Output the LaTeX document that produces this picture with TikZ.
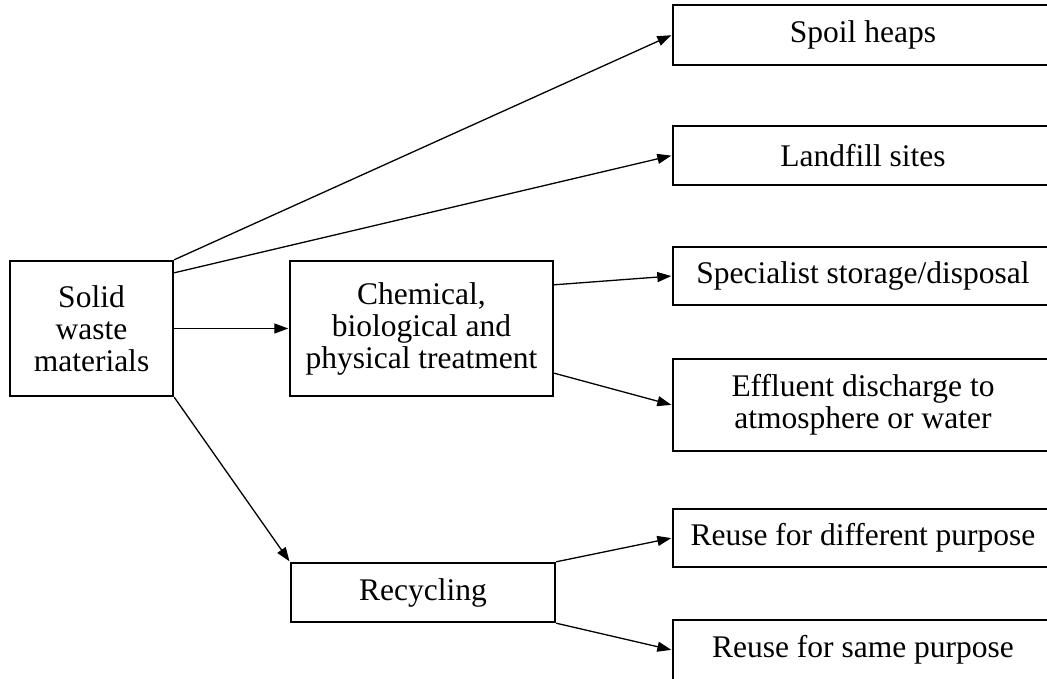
\documentclass[tikz,border=0pt]{standalone}
\usepackage{fontspec}
\setmainfont{Liberation Serif}
\usetikzlibrary{arrows.meta,calc}
\tikzset{
  box/.style={draw, line width=2.4pt, rectangle, align=center, inner sep=0pt,
    font=\fontsize{31.5}{32}\selectfont},
  conn/.style={line width=1.3pt, -{Triangle[length=14pt,width=10pt]}, shorten >=0.5pt}
}
\begin{document}
\begin{tikzpicture}[x=1pt,y=-1pt]
\useasboundingbox (0,0) rectangle (1047,679);
\node[box, minimum width=163pt, minimum height=135pt] (solid) at (91.5,328.5) {Solid\\waste\\materials};
\node[box, minimum width=263pt, minimum height=135pt] (chem) at (421.5,328.5) {Chemical,\\biological and\\physical treatment};
\node[box, minimum width=264pt, minimum height=59pt] (recyc) at (423,592.5) {Recycling};
\node[box, minimum width=380pt, minimum height=60pt] (spoil) at (863,35) {Spoil heaps};
\node[box, minimum width=380pt, minimum height=59pt] (land) at (863,155.5) {Landfill sites};
\node[box, minimum width=380pt, minimum height=58pt] (spec) at (863,276) {Specialist storage/disposal};
\node[box, minimum width=380pt, minimum height=92pt] (eff) at (863,405) {Effluent discharge to\\atmosphere or water};
\node[box, minimum width=380pt, minimum height=58pt] (rdiff) at (863,538) {Reuse for different purpose};
\node[box, minimum width=380pt, minimum height=60pt] (rsame) at (863,650) {Reuse for same purpose};

\draw[conn] (solid.north east) -- (spoil.west);
\draw[conn] ($(solid.north east)+(0,13)$) -- (land.west);
\draw[conn] (solid.east) -- (chem.west);
\draw[conn] (solid.south east) -- (recyc.north west);
\draw[conn] ($(chem.north east)+(0,25)$) -- (spec.west);
\draw[conn] ($(chem.south east)+(0,-24)$) -- (eff.west);
\draw[conn] (recyc.north east) -- (rdiff.west);
\draw[conn] (recyc.south east) -- (rsame.west);
\end{tikzpicture}
\end{document}
